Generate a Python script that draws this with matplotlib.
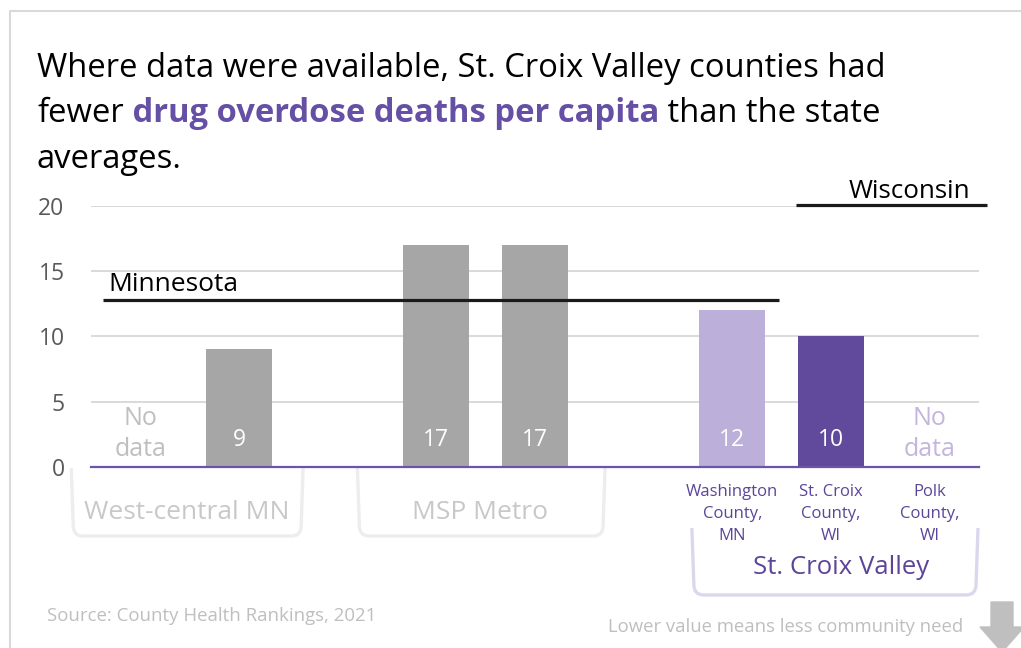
import numpy as np
import matplotlib.pyplot as plt
from matplotlib.path import Path
from matplotlib.patches import PathPatch, Polygon
from matplotlib.lines import Line2D
import matplotlib.transforms as mtransforms

plt.rcParams['font.family'] = ['Open Sans', 'DejaVu Sans']

#%% data
group_names = ['West-central MN', 'MSP Metro', 'St. Croix Valley']
group_values = [[None, 9], [17, 17], [12, 10, None]]
valley_labels = ['Washington\nCounty,\nMN', 'St. Croix\nCounty,\nWI', 'Polk\nCounty,\nWI']
state_names = ['Minnesota', 'Wisconsin']
state_values = [12.8, 20.1]
yticks = [0, 5, 10, 15, 20]

gray_ = '#a6a6a6'
purple_ = '#614a9c'
light_purple_ = '#bcb0da'
label_purple_ = '#5b4599'
bar_colors = [[gray_, gray_], [gray_, gray_], [light_purple_, purple_, light_purple_]]
nodata_colors = [['#bfbfbf', None], [None, None], [None, None, '#c3b5de']]

#%% figure
W, H = 1021, 648
fig = plt.figure(figsize=(W / 100, H / 100), dpi=100)
ax = fig.add_axes([91 / W, 1 - 466.7 / H, 888 / W, 260.7 / H])
ax.set_xlim(-0.5, 8.5)
ax.set_ylim(0, 20)

for g, vals in enumerate(group_values):
    for i, v in enumerate(vals):
        x_ = 3 * g + i
        if v is None:
            ax.text(x_, 2.5, 'No\ndata', ha='center', va='center', fontsize=18,
                    color=nodata_colors[g][i], linespacing=1.3)
        else:
            ax.bar(x_, v, width=0.67, color=bar_colors[g][i], zorder=2)
            ax.text(x_, 2.05, str(v), ha='center', va='center', fontsize=16.5,
                    color='white', zorder=3)

# state averages
ax.plot([-0.38, 6.47], [state_values[0]] * 2, color='#1a1a1a', lw=2.3,
        solid_capstyle='butt', zorder=4)
ax.plot([6.65, 8.58], [state_values[1]] * 2, color='#1a1a1a', lw=2.3,
        solid_capstyle='butt', zorder=4, clip_on=False)
ax.annotate(state_names[0], (-0.32, state_values[0]), xytext=(0, 6.5),
            textcoords='offset points', fontsize=19, va='baseline', ha='left')
ax.annotate(state_names[1], (8.41, state_values[1]), xytext=(0, 5),
            textcoords='offset points', fontsize=18.7, va='baseline', ha='right',
            annotation_clip=False)

# axes styling
for s in ['top', 'right', 'left']:
    ax.spines[s].set_visible(False)
ax.spines['bottom'].set_color('#6a55a8')
ax.spines['bottom'].set_linewidth(1.6)
ax.spines['bottom'].set_zorder(5)
ax.set_yticks(yticks)
ax.grid(axis='y', color='#d9d9d9', lw=1.4)
ax.set_axisbelow(True)
ax.tick_params(axis='y', length=0, labelsize=16.5, labelcolor='#595959', pad=19)
ax.set_xticks([6, 7, 8])
ax.set_xticklabels(valley_labels, fontsize=12, color=label_purple_)
ax.tick_params(axis='x', length=0, pad=12.5)
for lab in ax.get_xticklabels():
    lab.set_linespacing(1.5)

# group brackets
trans_ = mtransforms.blended_transform_factory(ax.transData, ax.transAxes)

def bracket(x0, x1, y0, y1, color):
    rx, ry = 0.1, 0.04
    verts = [(x0, y0), (x0 + 0.02, y1 + ry), (x0 + 0.02, y1), (x0 + 0.02 + rx, y1),
             (x1 - 0.02 - rx, y1), (x1 - 0.02, y1), (x1 - 0.02, y1 + ry), (x1, y0)]
    codes = [Path.MOVETO, Path.LINETO, Path.CURVE3, Path.CURVE3,
             Path.LINETO, Path.CURVE3, Path.CURVE3, Path.LINETO]
    ax.add_patch(PathPatch(Path(verts, codes), fill=False, edgecolor=color, lw=2.4,
                           transform=trans_, clip_on=False, zorder=1))

bracket(-0.70, 1.65, -0.005, -0.266, '#ededed')
bracket(2.20, 4.71, -0.005, -0.266, '#ededed')
bracket(5.59, 8.49, -0.235, -0.492, '#ddd7ee')
ax.text(0.47, -0.174, group_names[0], transform=trans_, ha='center', va='center',
        fontsize=19, color='#c8c8c8')
ax.text(3.44, -0.174, group_names[1], transform=trans_, ha='center', va='center',
        fontsize=19, color='#c8c8c8')
ax.text(7.1, -0.385, group_names[2], transform=trans_, ha='center', va='center',
        fontsize=18.5, color=label_purple_)

#%% title with highlighted words
fs_ = 23.6
fig.text(37 / W, 1 - 77 / H, 'Where data were available, St. Croix Valley counties had',
         fontsize=fs_, va='baseline')
fig.text(37 / W, 1 - 168 / H, 'averages.', fontsize=fs_, va='baseline')
pieces = [('fewer', 'black', 'normal'),
          (' drug overdose deaths per capita', '#6650a6', 'bold'),
          (' than the state', 'black', 'normal')]
x_ = 37 / W
fig.canvas.draw()
r_ = fig.canvas.get_renderer()
for txt, col, wt in pieces:
    t_ = fig.text(x_, 1 - 122 / H, txt, fontsize=fs_, color=col, fontweight=wt,
                  va='baseline')
    bb = t_.get_window_extent(renderer=r_)
    x_ = bb.x1 / W

#%% footer, border, arrow
fig.text(47 / W, 1 - 616 / H, 'Source: County Health Rankings, 2021', fontsize=13.4,
         color='#bfbfbf', va='center')
fig.text(963 / W, 1 - 627 / H, 'Lower value means less community need', fontsize=13.3,
         color='#bfbfbf', va='center', ha='right')
arrow_px = [(991, 602), (1013, 602), (1013, 627), (1024, 627), (1002, 652),
            (980, 627), (991, 627)]
fig.patches.append(Polygon([(px / W, 1 - py / H) for px, py in arrow_px],
                           closed=True, color='#bfbfbf', transform=fig.transFigure,
                           figure=fig))
fig.lines.append(Line2D([10 / W, 10 / W, 1], [0, 1 - 11 / H, 1 - 11 / H],
                        color='#d9d9d9', lw=1.5, transform=fig.transFigure,
                        figure=fig))

plt.savefig('out.png', dpi=100)
